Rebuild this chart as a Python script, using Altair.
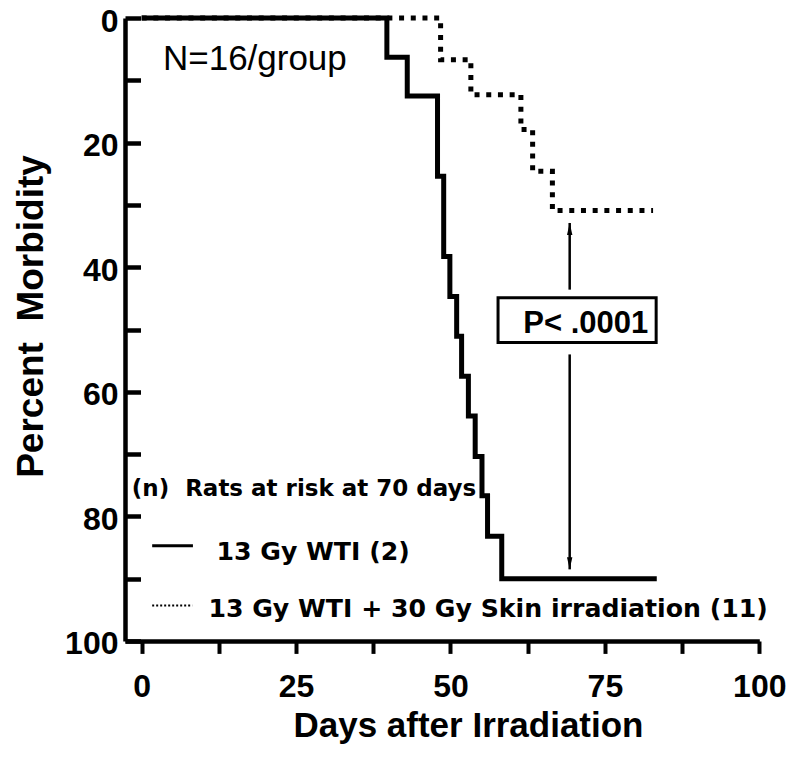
import altair as alt
import pandas as pd

# ---- data ----
# 13 Gy WTI (solid step curve)
wti_days = [0, 39.7, 43.0, 47.9, 48.9, 49.9, 51.0, 51.8, 52.9, 54.0, 55.1, 56.0, 58.3, 83.4]
wti_morbidity = [0, 6.3, 12.5, 25.4, 38.3, 44.7, 51.1, 57.5, 63.9, 70.4, 76.7, 83.2, 90.0, 90.0]

# 13 Gy WTI + 30 Gy skin irradiation (dotted step curve)
skin_days = [0, 48.4, 53.3, 61.4, 63.3, 66.5, 82.8]
skin_morbidity = [0, 6.7, 12.3, 17.9, 24.6, 30.9, 30.9]

x_tick_values = [0, 12.5, 25, 37.5, 50, 62.5, 75, 87.5, 100]
y_tick_values = [0, 10, 20, 30, 40, 50, 60, 70, 80, 90, 100]

NB = "\u00a0"
x_title = "Days after Irradiation"
y_title = "Percent" + NB + NB + "Morbidity"
n_text = "N=16/group"
p_text = "P< .0001"
legend_header = "(n)" + NB + NB + "Rats at risk at 70 days"
legend_labels = ["13 Gy WTI (2)", "13 Gy WTI + 30 Gy Skin irradiation (11)"]

# annotation anchors (in data units)
arrow_day = 69.3
arrow_upper = [32.9, 43.6]
arrow_lower = [54.0, 88.5]
box_days = [57.7, 83.3]
box_pct = [44.9, 52.1]

W = 634.3
H = 623
FONT = "Liberation Sans"
LFONT = "DejaVu Sans"

xs = alt.Scale(domain=[-2.7, 100], nice=False, zero=False)
ys = alt.Scale(domain=[0, 100], reverse=True, nice=False, zero=False)

wti_df = pd.DataFrame({"day": wti_days, "pct": wti_morbidity})
skin_df = pd.DataFrame({"day": skin_days, "pct": skin_morbidity})

x_axis = alt.Axis(
    values=x_tick_values,
    labelExpr="datum.value % 25 == 0 ? datum.label : ''",
    tickSize=12.4, tickWidth=4, tickColor="black",
    domainWidth=4.5, domainColor="black",
    labelFont=FONT, labelFontSize=32, labelFontWeight="bold", labelColor="black",
    labelPadding=18, labelFlush=False, labelOverlap=False,
    grid=False,
    title=x_title, titleFont=FONT, titleFontSize=35, titleFontWeight="bold",
    titleColor="black", titleX=343, titleY=95.7, titleBaseline="alphabetic",
    titleAlign="center",
)
y_axis = alt.Axis(
    orient="left",
    values=y_tick_values,
    labelExpr="datum.value % 20 == 0 ? datum.label : ''",
    tickSize={"expr": "-15.5"}, tickWidth=4.5, tickColor="black",
    domainWidth=4.5, domainColor="black",
    labelFont=FONT, labelFontSize=32, labelFontWeight="bold", labelColor="black",
    labelPadding=22.5, labelOffset=3, labelFlush=False, labelOverlap=False,
    grid=False,
    title=y_title, titleFont=FONT, titleFontSize=37, titleFontWeight="bold",
    titleColor="black", titleX=-82, titleY=298, titleBaseline="alphabetic",
    titleAlign="center", titleAngle=270,
)


def pos():
    # every layer shares the same scales and the same axis definitions
    return dict(
        x=alt.X("day:Q", scale=xs, axis=x_axis),
        y=alt.Y("pct:Q", scale=ys, axis=y_axis),
    )


solid = alt.Chart(wti_df).mark_line(
    interpolate="step-after", strokeWidth=5, color="black",
    strokeCap="butt", strokeJoin="miter",
).encode(**pos())

dotted = alt.Chart(skin_df).mark_line(
    interpolate="step-after", strokeWidth=5, color="black",
    strokeDash=[5, 6.7], strokeCap="butt", strokeJoin="miter",
).encode(**pos())

# arrow lines
arrow_df = pd.DataFrame({
    "day": [arrow_day, arrow_day],
    "pct": [arrow_upper[0], arrow_lower[0]],
    "pct2": [arrow_upper[1], arrow_lower[1]],
})
arrow_lines = alt.Chart(arrow_df).mark_rule(strokeWidth=2.5, color="black").encode(
    **pos(), y2="pct2:Q",
)
head_up = alt.Chart(pd.DataFrame({"day": [arrow_day], "pct": [arrow_upper[0]]})).mark_point(
    shape="M0,0L0.45,2L-0.45,2Z", filled=True, size=144, color="black", opacity=1, strokeWidth=0,
).encode(**pos())
head_down = alt.Chart(pd.DataFrame({"day": [arrow_day], "pct": [arrow_lower[1]]})).mark_point(
    shape="M0,0L0.45,-2L-0.45,-2Z", filled=True, size=144, color="black", opacity=1, strokeWidth=0,
).encode(**pos())

box = alt.Chart(pd.DataFrame({
    "day": [box_days[0]], "day2": [box_days[1]],
    "pct": [box_pct[0]], "pct2": [box_pct[1]],
})).mark_rect(fill="white", stroke="black", strokeWidth=3).encode(
    **pos(), x2="day2:Q", y2="pct2:Q",
)

p_label = alt.Chart(pd.DataFrame({"day": [71.9], "pct": [50.5], "t": [p_text]})).mark_text(
    font=FONT, fontSize=31, fontWeight="bold", align="center", baseline="alphabetic", color="black",
).encode(**pos(), text="t:N")

n_label = alt.Chart(pd.DataFrame({"day": [3.45], "pct": [8.3], "t": [n_text]})).mark_text(
    font=FONT, fontSize=35, fontWeight="normal", align="left", baseline="alphabetic", color="black",
).encode(**pos(), text="t:N")

header = alt.Chart(pd.DataFrame({"day": [-1.6], "pct": [76.7], "t": [legend_header]})).mark_text(
    font=LFONT, fontSize=23, fontWeight="bold", align="left", baseline="alphabetic", color="black",
).encode(**pos(), text="t:N")

leg_text = alt.Chart(pd.DataFrame({
    "day": [12.1, 10.8], "pct": [86.95, 96.2], "t": legend_labels,
})).mark_text(
    font=LFONT, fontSize=25.2, fontWeight="bold", align="left", baseline="alphabetic", color="black",
).encode(**pos(), text="t:N")

leg_solid = alt.Chart(pd.DataFrame({"day": [1.7], "day2": [8.3], "pct": [84.7]})).mark_rule(
    strokeWidth=3, color="black",
).encode(**pos(), x2="day2:Q")
leg_dotted = alt.Chart(pd.DataFrame({"day": [1.7], "day2": [8.2], "pct": [94.3]})).mark_rule(
    strokeWidth=2, color="black", strokeDash=[2, 2],
).encode(**pos(), x2="day2:Q")

chart = alt.layer(
    solid, dotted, arrow_lines, head_up, head_down, box, p_label,
    n_label, header, leg_text, leg_solid, leg_dotted,
).properties(
    width=W, height=H,
    autosize=alt.AutoSizeParams(type="none"),
    padding={"left": 117, "top": 10, "right": 30, "bottom": 108},
    background="white",
).configure_view(stroke=None)

chart.save("out.html", embed_options={"renderer": "svg", "actions": False})
